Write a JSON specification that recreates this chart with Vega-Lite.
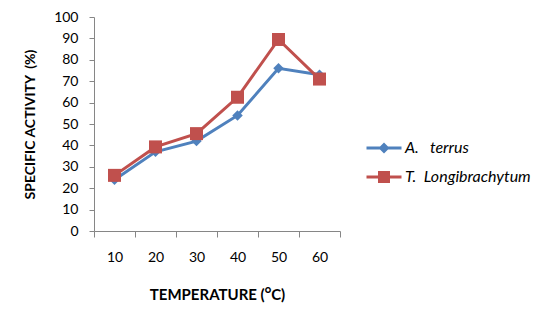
{
  "$schema": "https://vega.github.io/schema/vega-lite/v6.json",
  "width": 246,
  "height": 214,
  "autosize": {"type": "none"},
  "padding": {"left": 94, "top": 17, "right": 212, "bottom": 81},
  "background": "white",
  "config": {
    "view": {"stroke": null},
    "font": "Lato",
    "axis": {
      "grid": false,
      "domainColor": "#868686",
      "tickColor": "#868686",
      "labelColor": "#000000",
      "labelFont": "Lato",
      "labelFontSize": 14,
      "titleFont": "Lato",
      "titleFontSize": 14,
      "titleFontWeight": "bold",
      "titleColor": "#000000"
    }
  },
  "data": {
    "values": [
      {"temp": "10", "series": "A.\u00a0\u00a0\u00a0terrus", "activity": 24},
      {"temp": "20", "series": "A.\u00a0\u00a0\u00a0terrus", "activity": 37},
      {"temp": "30", "series": "A.\u00a0\u00a0\u00a0terrus", "activity": 42},
      {"temp": "40", "series": "A.\u00a0\u00a0\u00a0terrus", "activity": 54},
      {"temp": "50", "series": "A.\u00a0\u00a0\u00a0terrus", "activity": 76},
      {"temp": "60", "series": "A.\u00a0\u00a0\u00a0terrus", "activity": 73},
      {"temp": "10", "series": "T.\u00a0\u00a0Longibrachytum", "activity": 26},
      {"temp": "20", "series": "T.\u00a0\u00a0Longibrachytum", "activity": 39.3},
      {"temp": "30", "series": "T.\u00a0\u00a0Longibrachytum", "activity": 45.5},
      {"temp": "40", "series": "T.\u00a0\u00a0Longibrachytum", "activity": 62.5},
      {"temp": "50", "series": "T.\u00a0\u00a0Longibrachytum", "activity": 89.5},
      {"temp": "60", "series": "T.\u00a0\u00a0Longibrachytum", "activity": 71}
    ]
  },
  "encoding": {
    "x": {
      "field": "temp",
      "type": "ordinal",
      "sort": null,
      "scale": {"type": "band", "paddingInner": 0, "paddingOuter": 0},
      "axis": {
        "title": "TEMPERATURE (\u1D3CC)",
        "titleFontSize": 15,
        "labelAngle": 0,
        "tickBand": "extent",
        "tickSize": 6,
        "labelPadding": 13,
        "titleY": 63,
        "titleBaseline": "middle"
      }
    },
    "y": {
      "field": "activity",
      "type": "quantitative",
      "scale": {"domain": [0, 100], "nice": false, "zero": true},
      "axis": {
        "title": "SPECIFIC ACTIVITY\u00a0\u00a0(%)",
        "values": [0, 10, 20, 30, 40, 50, 60, 70, 80, 90, 100],
        "tickSize": 5,
        "labelPadding": 11,
        "titleX": -64,
        "titleY": 107,
        "titleAngle": -90,
        "titleBaseline": "middle",
        "titleAlign": "center"
      }
    },
    "color": {
      "field": "series",
      "type": "nominal",
      "scale": {
        "domain": ["A.\u00a0\u00a0\u00a0terrus", "T.\u00a0\u00a0Longibrachytum"],
        "range": ["#4F81BD", "#C0504D"]
      },
      "legend": {
        "title": null,
        "orient": "none",
        "legendX": 272,
        "legendY": 121,
        "padding": 0,
        "symbolSize": 400,
        "symbolOffset": 8,
        "labelOffset": 11,
        "rowPadding": 11,
        "labelFont": "Lato",
        "labelFontSize": 16,
        "labelFontStyle": "italic",
        "labelColor": "#000000",
        "symbolStrokeWidth": 0,
        "symbolOpacity": 1,
        "encode": {
          "symbols": {
            "update": {
              "shape": {"signal": "indexof(datum.value, 'terrus') >= 0 ? 'M-1.75,-0.15H1.75V0.15H-1.75Z M0,-0.55L0.55,0L0,0.55L-0.55,0Z' : 'M-1.75,-0.15H1.75V0.15H-1.75Z M-0.6,-0.6H0.6V0.6H-0.6Z'"},
              "size": {"value": 400},
              "fill": {"scale": "color", "field": "value"},
              "strokeWidth": {"value": 0},
              "opacity": {"value": 1}
            }
          }
        }
      }
    }
  },
  "layer": [
    {
      "mark": {"type": "line", "strokeWidth": 3},
      "encoding": {}
    },
    {
      "transform": [{"filter": "indexof(datum.series, 'terrus') >= 0"}],
      "mark": {"type": "point", "filled": true, "opacity": 1, "shape": "diamond", "size": 110},
      "encoding": {}
    },
    {
      "transform": [{"filter": "indexof(datum.series, 'terrus') < 0"}],
      "mark": {"type": "point", "filled": true, "opacity": 1, "shape": "square", "size": 169},
      "encoding": {}
    }
  ]
}
